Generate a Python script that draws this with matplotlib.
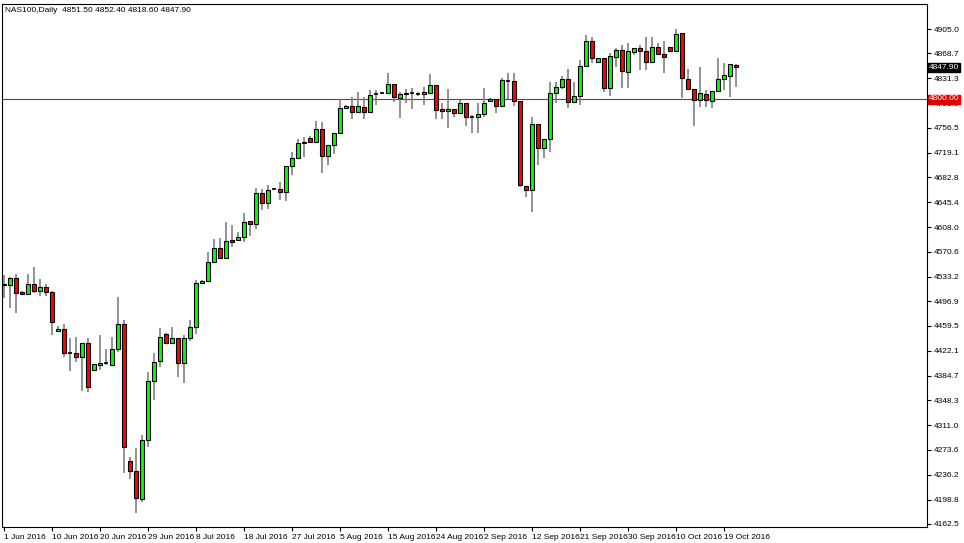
import matplotlib
matplotlib.use("Agg")
import matplotlib.pyplot as plt
from matplotlib.patches import Rectangle

plt.rcParams['font.family'] = ['Liberation Sans', 'DejaVu Sans']

opens = [4522.5,4521,4531.5,4510.5,4507.5,4522.5,4512,4518,4510.5,4452,4455,4419,4419,4413,4434,4393.5,4401,4404,4401,4425,
 4462.5,4257,4242,4200,4288.5,4377,4407,4447.5,4434,4441.5,4404,4441.5,4458,4524,4527,4555.5,4576.5,4561.5,4588.5,4588.5,
 4593,4617,4612.5,4659,4644,4665,4665,4660.5,4699.5,4711.5,4734,4741.5,4735.5,4755,4714.5,4731,4749,4786.5,4789.5,4780.5,
 4788,4780.5,4807.5,4809,4809,4822.5,4801.5,4807.5,4809,4807.5,4807.5,4809,4821,4785,4782,4785,4779,4794,4773,4773,
 4777.5,4797,4800,4789.5,4827,4827,4797,4669.5,4663.5,4762.5,4726.5,4740,4809,4818,4830,4795.5,4804.5,4849.5,4887,4855.5,
 4861.5,4816.5,4863,4873.5,4840.5,4870.5,4876.5,4872,4855.5,4878,4867.5,4878,4872,4899,4830,4815,4798.5,4807.5,4797,4812,
 4830,4834.5,4851.5]
highs = [4536,4533,4537.5,4512,4537.5,4548,4530,4522.5,4512,4459.5,4462.5,4441.5,4443,4434,4441.5,4402.5,4446,4425,4443,4503,
 4468.5,4263,4276.5,4296,4390.5,4419,4456.5,4449,4458,4441.5,4446,4468.5,4528.5,4528,4570.5,4590,4591.5,4615.5,4611,4600.5,
 4629,4617,4666.5,4665,4671,4667,4675.5,4699.5,4720.5,4740,4743,4744.5,4767,4765.5,4731,4749,4800,4791,4803,4810.5,
 4803,4813.5,4813.5,4811,4839,4822.5,4810.5,4815,4816.5,4810,4818,4837.5,4821,4794,4815,4785,4798.5,4794,4776,4794,
 4816.5,4801,4800,4831.5,4839,4839,4797,4669.5,4773,4762.5,4740,4825.5,4825.5,4834.5,4845,4825.5,4858.5,4896,4893,4861.5,
 4861.5,4869,4876.5,4881,4884,4876.5,4881,4893,4893,4884,4887,4878,4905,4899,4845,4815,4848,4813.5,4812,4861.5,
 4854,4852.5,4852.4]
lows = [4501.5,4486.5,4479,4506,4507.5,4509,4504.5,4504.5,4446,4452,4413,4392,4405.5,4362,4360.5,4393.5,4393.5,4401,4399.5,4420.5,
 4239,4230,4179,4195.5,4278,4348.5,4398,4432.5,4434,4383,4374,4437,4447.5,4522,4527,4555.5,4560,4561.5,4578,4588.5,
 4585.5,4594.5,4605,4633.5,4635,4663,4648.5,4647,4686,4711.5,4713,4735.5,4735.5,4689,4701,4717.5,4749,4785,4770,4780.5,
 4770,4780.5,4791,4807,4809,4795.5,4771.5,4794,4785,4805,4791,4809,4770,4770,4756.5,4773,4779,4759.5,4749,4749,
 4773,4796,4779,4789.5,4800,4789.5,4668,4653,4630.5,4701,4711.5,4720.5,4794,4815,4786.5,4795.5,4791,4848,4854,4855.5,
 4810.5,4804.5,4848,4816.5,4816.5,4866,4843.5,4843.5,4854,4866,4839,4872,4872,4801.5,4815,4759.5,4788,4788,4786.5,4812,
 4813.5,4803,4818.6]
closes = [4521,4531.5,4509,4507.5,4522.5,4512,4518,4510.5,4465.5,4455,4419,4418,4413,4434,4368,4402.5,4404,4404,4425,4462.5,
 4278,4242,4201.5,4288.5,4377,4405.5,4443,4434,4441.5,4404,4441.5,4458,4524,4527,4555.5,4576.5,4561.5,4587,4585.5,4593,
 4615.5,4612.5,4659,4644,4663.5,4665,4660.5,4699.5,4711.5,4734,4735.5,4735.5,4755,4714.5,4731,4749,4786.5,4789.5,4780.5,4789.5,
 4780.5,4806,4807.5,4809,4822.5,4803,4807.5,4809,4809,4807.5,4810.5,4821,4783.5,4782,4785,4779,4794,4773,4773,4777.5,
 4794,4800,4789.5,4828.5,4827,4797,4671,4663.5,4762.5,4726.5,4740,4809,4818,4830,4795.5,4804.5,4849.5,4887,4861.5,4861.5,
 4816.5,4864.5,4873.5,4842,4872,4876.5,4872,4855.5,4878,4867.5,4863,4872,4897.5,4831.5,4815,4798.5,4809,4798.5,4812,4830,
 4836,4852.5,4847.9]

date_labels = ["1 Jun 2016","10 Jun 2016","20 Jun 2016","29 Jun 2016","8 Jul 2016","18 Jul 2016","27 Jul 2016",
 "5 Aug 2016","15 Aug 2016","24 Aug 2016","2 Sep 2016","12 Sep 2016","21 Sep 2016","30 Sep 2016","10 Oct 2016","19 Oct 2016"]
price_ticks = [4905.0,4868.7,4831.3,4793.9,4756.5,4719.1,4682.8,4645.4,4608.0,4570.6,4533.2,4496.9,4459.5,4422.1,
 4384.7,4348.3,4311.0,4273.6,4236.2,4198.8,4162.5]
level = 4800.0
title = "NAS100,Daily  4851.50 4852.40 4818.60 4847.90"

fig = plt.figure(figsize=(9.64,5.43), dpi=100)
ax = fig.add_axes([2/964, 16/543, 925/964, 523/543])
ax.set_xlim(-0.33, 153.8)
ax.set_ylim(4158, 4942.5)
w = 0.6
for i,(o,h,l,c) in enumerate(zip(opens,highs,lows,closes)):
    ax.vlines(i, l, h, color="#808080", lw=1.2, zorder=1)
    col = "#00ff00" if c >= o else "#ff0000"
    bh = abs(c-o)
    if bh < 1.5:
        ax.hlines(o, i-w/2, i+w/2, color="black", lw=1.2, zorder=2)
    else:
        ax.add_patch(Rectangle((i-w/2, min(o,c)), w, bh, facecolor=col, edgecolor="black", lw=0.8, zorder=2))
ax.axhline(level, color="#b22222", lw=0.8, zorder=0)

fs = 6
ax.yaxis.tick_right()
ax.set_yticks(price_ticks)
ax.set_yticklabels([f"{p:.1f}" for p in price_ticks], fontsize=fs)
ax.set_xticks(range(0, 8*len(date_labels), 8))
ax.set_xticklabels(date_labels, fontsize=fs, ha="left")
ax.tick_params(axis="x", length=3, pad=2)
ax.tick_params(axis="y", length=3, pad=2)
for s in ax.spines.values():
    s.set_linewidth(0.8)
ax.text(0.003, 0.995, title, transform=ax.transAxes, fontsize=fs, va="top", ha="left")
ax.text(1.002, level, f"{level:.2f}", transform=ax.get_yaxis_transform(), fontsize=fs, va="center", ha="left",
        color="white", zorder=5, bbox=dict(boxstyle="square,pad=0.12", fc="#e00000", ec="#e00000"))
ax.text(1.002, closes[-1], f"{closes[-1]:.2f}", transform=ax.get_yaxis_transform(), fontsize=fs, va="center", ha="left",
        color="white", zorder=5, bbox=dict(boxstyle="square,pad=0.12", fc="black", ec="black"))
fig.savefig("out.png", dpi=100)
